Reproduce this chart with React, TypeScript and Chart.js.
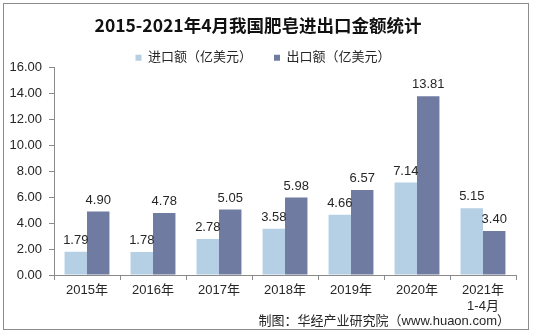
import React, { useEffect, useRef } from "react";
import { Chart, registerables } from "chart.js";

Chart.register(...registerables);

const categories: (string | string[])[] = ["2015年", "2016年", "2017年", "2018年", "2019年", "2020年", ["2021年", "1-4月"]];
const importValues = [1.79, 1.78, 2.78, 3.58, 4.66, 7.14, 5.15];
const exportValues = [4.9, 4.78, 5.05, 5.98, 6.57, 13.81, 3.4];
const seriesNames = ["进口额（亿美元）", "出口额（亿美元）"];
const titleText = "2015-2021年4月我国肥皂进出口金额统计";
const sourceText = "制图：华经产业研究院（www.huaon.com）";

const FONT = "'Liberation Sans', Arial, 'Noto Sans CJK SC', sans-serif";
const TEXT = "#262626";
const AXIS = "#8a8a8a";

const decorPlugin = {
  id: "decor",
  beforeLayout(chart: any) {
    const lg = chart.legend;
    if (lg && !lg._patchedFit) {
      const f = lg.fit;
      lg.fit = function (this: any) {
        f.call(this);
        this.height = 38.5;
      };
      lg._patchedFit = true;
    }
  },
  afterLayout(chart: any) {
    const lg = chart.legend;
    if (lg) {
      lg.left += 5;
      lg.right += 5;
    }
  },
  afterDatasetsDraw(chart: any) {
    const ctx = chart.ctx;
    ctx.save();
    ctx.font = `13px ${FONT}`;
    ctx.fillStyle = TEXT;
    ctx.textAlign = "center";
    ctx.textBaseline = "bottom";
    chart.data.datasets.forEach((ds: any, i: number) => {
      const meta = chart.getDatasetMeta(i);
      meta.data.forEach((bar: any, j: number) => {
        ctx.fillText(Number(ds.data[j]).toFixed(2), bar.x, bar.y - 5);
      });
    });
    ctx.restore();
  },
  afterDraw(chart: any) {
    const ctx = chart.ctx;
    ctx.save();
    ctx.font = `13px ${FONT}`;
    ctx.fillStyle = TEXT;
    ctx.textAlign = "right";
    ctx.textBaseline = "middle";
    ctx.fillText(sourceText, 510, 321);
    ctx.strokeStyle = "#8c8c8c";
    ctx.lineWidth = 1;
    ctx.strokeRect(3.5, 3.5, 525, 326);
    ctx.restore();
  },
};

export default function App() {
  const ref = useRef<HTMLCanvasElement>(null);
  useEffect(() => {
    if (!ref.current) return;
    const chart = new Chart(ref.current, {
      type: "bar",
      data: {
        labels: categories,
        datasets: [
          {
            label: seriesNames[0],
            data: importValues,
            backgroundColor: "#b5cfe4",
            categoryPercentage: 0.68,
            barPercentage: 1,
          },
          {
            label: seriesNames[1],
            data: exportValues,
            backgroundColor: "#707ba2",
            categoryPercentage: 0.68,
            barPercentage: 1,
          },
        ],
      },
      options: {
        responsive: false,
        animation: false,
        devicePixelRatio: 1,
        layout: { padding: { left: 0, right: 18, top: 0, bottom: 0 } },
        plugins: {
          title: {
            display: true,
            text: titleText,
            color: "#111",
            font: { family: "'Noto Sans CJK SC', serif", size: 17.5, weight: "bold", lineHeight: 0.5 },
            padding: { top: 20.6, bottom: 0 },
          },
          legend: {
            display: true,
            labels: {
              color: TEXT,
              font: { family: FONT, size: 13 },
              boxWidth: 6,
              boxHeight: 6,
              padding: 22,
            },
          },
          tooltip: { enabled: false },
        },
        scales: {
          x: {
            grid: { drawOnChartArea: false, tickLength: 5, color: AXIS },
            border: { color: AXIS },
            ticks: { color: TEXT, font: { family: FONT, size: 13 }, padding: 3, maxRotation: 0, autoSkip: false },
            afterFit: (s: any) => { s.height = 60; },
          },
          y: {
            min: 0,
            max: 16,
            grid: { drawOnChartArea: false, tickLength: 5, color: AXIS },
            border: { color: AXIS },
            ticks: {
              stepSize: 2,
              color: TEXT,
              font: { family: FONT, size: 13 },
              padding: 7,
              callback: (v: any) => Number(v).toFixed(2),
            },
            afterFit: (s: any) => { s.width = 54; },
          },
        },
      },
      plugins: [decorPlugin],
    });
    return () => chart.destroy();
  }, []);
  return (
    <div style={{ position: "absolute", left: 0, top: 0, width: 534, height: 335, background: "#fff" }}>
      <canvas ref={ref} width={534} height={335} />
    </div>
  );
}
